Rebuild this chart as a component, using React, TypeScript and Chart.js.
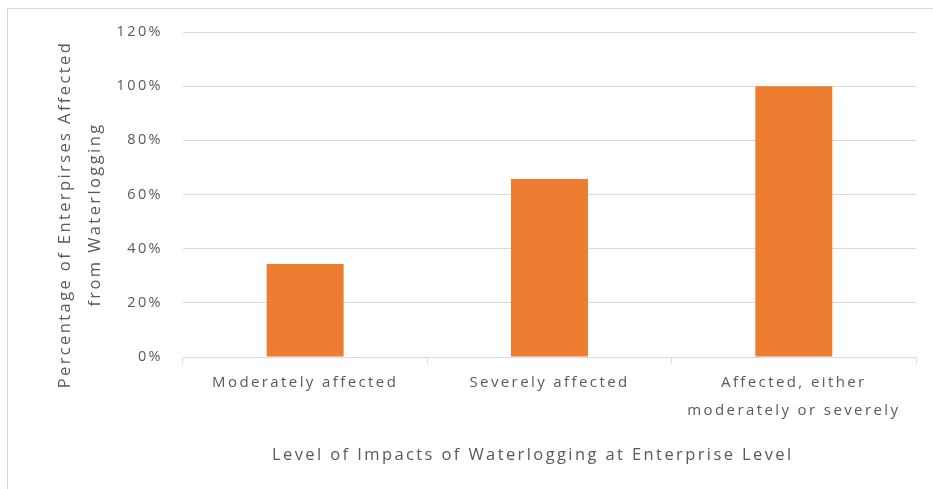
import React, { useEffect, useRef } from "react";
import { Chart, registerables } from "chart.js";

Chart.register(...registerables);

const categories: (string | string[])[] = [
  "Moderately affected",
  "Severely affected",
  ["Affected, either", "moderately or severely"],
];
const values: number[] = [34.3, 65.7, 100];
const yTitle: string[] = ["Percentage of Enterpirses Affected", "from Waterlogging"];
const xTitle = "Level of Impacts of Waterlogging at Enterprise Level";

const FONT = "'Open Sans', 'DejaVu Sans', sans-serif";
const TEXT = "#595959";
const GRID = "#d9d9d9";
// trailing non-breaking spaces shift the centred titles like the reference
const PAD_Y = "\u00a0".repeat(6);
const PAD_X = "\u00a0".repeat(5);

const spacingPlugin = {
  id: "letterSpacing",
  beforeLayout(chart: any) {
    (chart.ctx as any).letterSpacing = "2.4px";
  },
  beforeDraw(chart: any) {
    (chart.ctx as any).letterSpacing = "2.4px";
  },
};

export default function App() {
  const ref = useRef<HTMLCanvasElement | null>(null);
  useEffect(() => {
    if (!ref.current) return;
    const chart = new Chart(ref.current, {
      type: "bar",
      data: {
        labels: categories,
        datasets: [
          {
            data: values,
            backgroundColor: "#ED7D31",
            borderWidth: 0,
            barPercentage: 0.315,
            categoryPercentage: 1,
          },
        ],
      },
      plugins: [spacingPlugin],
      options: {
        responsive: false,
        animation: false,
        layout: { padding: { top: 32, right: 17, left: 0, bottom: 0 } },
        plugins: { legend: { display: false }, tooltip: { enabled: false } },
        scales: {
          x: {
            grid: {
              drawOnChartArea: false,
              drawTicks: true,
              tickLength: 6,
              color: GRID,
              offset: true,
            },
            border: { color: GRID, width: 1 },
            ticks: {
              color: TEXT,
              padding: 6,
              maxRotation: 0,
              autoSkip: false,
              font: { family: FONT, size: 15, lineHeight: 1.87 },
            },
            title: {
              display: true,
              text: xTitle + PAD_X,
              color: TEXT,
              font: { family: FONT, size: 16.5, lineHeight: 1.2 },
              padding: { top: 0, bottom: 24 },
            },
            afterFit: (s: any) => {
              s.height = 132;
            },
          },
          y: {
            min: 0,
            max: 120,
            grid: { color: GRID, drawTicks: false },
            border: { display: false },
            ticks: {
              stepSize: 20,
              color: TEXT,
              padding: 20,
              font: { family: FONT, size: 14.5 },
              callback: (v: any) => v + "%",
            },
            title: {
              display: true,
              text: yTitle.map((t) => t + PAD_Y),
              color: TEXT,
              font: { family: FONT, size: 16.5, lineHeight: 1.85 },
              padding: { top: 50, bottom: 0 },
            },
            afterFit: (s: any) => {
              s.width = 183;
            },
          },
        },
      },
    });
    return () => chart.destroy();
  }, []);
  return (
    <div style={{ position: "fixed", inset: 0, background: "#fff", overflow: "hidden" }}>
      <div
        style={{
          position: "absolute",
          left: 7,
          top: 8,
          width: 2000,
          height: 2000,
          border: "1px solid " + GRID,
        }}
      />
      <canvas
        ref={ref}
        width={933}
        height={489}
        style={{ position: "absolute", left: 0, top: 0, width: 933, height: 489 }}
      />
    </div>
  );
}
